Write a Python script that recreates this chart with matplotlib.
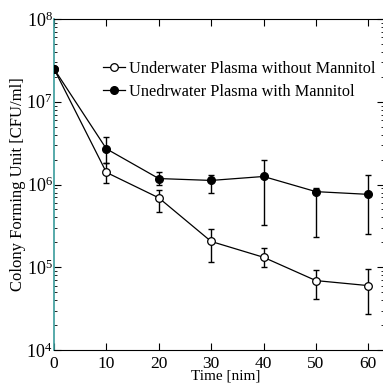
import matplotlib
matplotlib.use("Agg")
import matplotlib.pyplot as plt
from matplotlib.ticker import LogLocator, NullFormatter, FixedLocator

# Data
time_min = [0, 10, 20, 30, 40, 50, 60]

without_mannitol = [2.5e7, 1.4e6, 6.9e5, 2.05e5, 1.32e5, 6.9e4, 6.0e4]
without_lo = [2.5e7, 1.05e6, 4.6e5, 1.17e5, 1.0e5, 4.1e4, 2.7e4]
without_hi = [2.5e7, 1.8e6, 8.5e5, 2.9e5, 1.7e5, 9.2e4, 9.5e4]

with_mannitol = [2.5e7, 2.7e6, 1.18e6, 1.12e6, 1.25e6, 8.2e5, 7.6e5]
with_lo = [2.5e7, 1.8e6, 1.0e6, 7.8e5, 3.2e5, 2.3e5, 2.5e5]
with_hi = [2.5e7, 3.8e6, 1.4e6, 1.3e6, 2.0e6, 9.0e5, 1.3e6]

labels = ["Underwater Plasma without Mannitol",
          "Unedrwater Plasma with Mannitol"]
x_ticks = [0, 10, 20, 30, 40, 50, 60]

plt.rcParams['font.family'] = ['Liberation Serif', 'DejaVu Serif']
plt.rcParams['mathtext.fontset'] = 'stix'

W = H = 383
fig = plt.figure(figsize=(3.83, 3.83), dpi=100)
ax = fig.add_axes([54 / W, (H - 350) / H, (384 - 54) / W, (350 - 19) / H])


def err(vals, lo, hi):
    return [[v - l for v, l in zip(vals, lo)], [h - v for v, h in zip(vals, hi)]]


eb_style = dict(fmt='none', ecolor='black', capsize=2.5, elinewidth=1.0, capthick=1.0)
ax.errorbar(time_min, without_mannitol, yerr=err(without_mannitol, without_lo, without_hi), **eb_style)
ax.errorbar(time_min, with_mannitol, yerr=err(with_mannitol, with_lo, with_hi), **eb_style)

ax.plot(time_min, without_mannitol, color='black', marker='o', markerfacecolor='white',
        markersize=5.5, markeredgewidth=0.9, linewidth=0.9, label=labels[0], zorder=3)
ax.plot(time_min, with_mannitol, color='black', marker='o', markerfacecolor='black',
        markersize=5.5, linewidth=0.9, label=labels[1], zorder=3)

ax.set_yscale('log')
ax.set_ylim(1e4, 1e8)
ax.set_xlim(0, 63)
ax.xaxis.set_major_locator(FixedLocator(x_ticks))
ax.yaxis.set_major_locator(LogLocator(base=10, numticks=10))
ax.yaxis.set_minor_locator(LogLocator(base=10, subs=range(2, 10), numticks=10))
ax.yaxis.set_minor_formatter(NullFormatter())

ax.tick_params(which='both', direction='in', top=True, right=True)
ax.tick_params(which='major', length=5, width=0.8)
ax.tick_params(which='minor', length=2.5, width=0.6)
ax.tick_params(axis='x', which='major', pad=4, labelsize=12.5)
ax.tick_params(axis='y', which='major', pad=1, labelsize=13)

ax.spines['left'].set_color('#3a9c9c')
ax.spines['left'].set_linewidth(1.2)

ax.set_xlabel("Time [nim]", fontsize=11, va='bottom')
ax.xaxis.set_label_coords(0.52, -33 / 331 + 0.002)
ax.set_ylabel("Colony Forming Unit [CFU/ml]", fontsize=12, labelpad=0)

ax.legend(loc='upper left', bbox_to_anchor=(0.13, 0.894), frameon=False,
          fontsize=11.7, handlelength=1.3, handletextpad=0.3,
          labelspacing=0.45, borderaxespad=0)

fig.savefig("out.png", dpi=100)
